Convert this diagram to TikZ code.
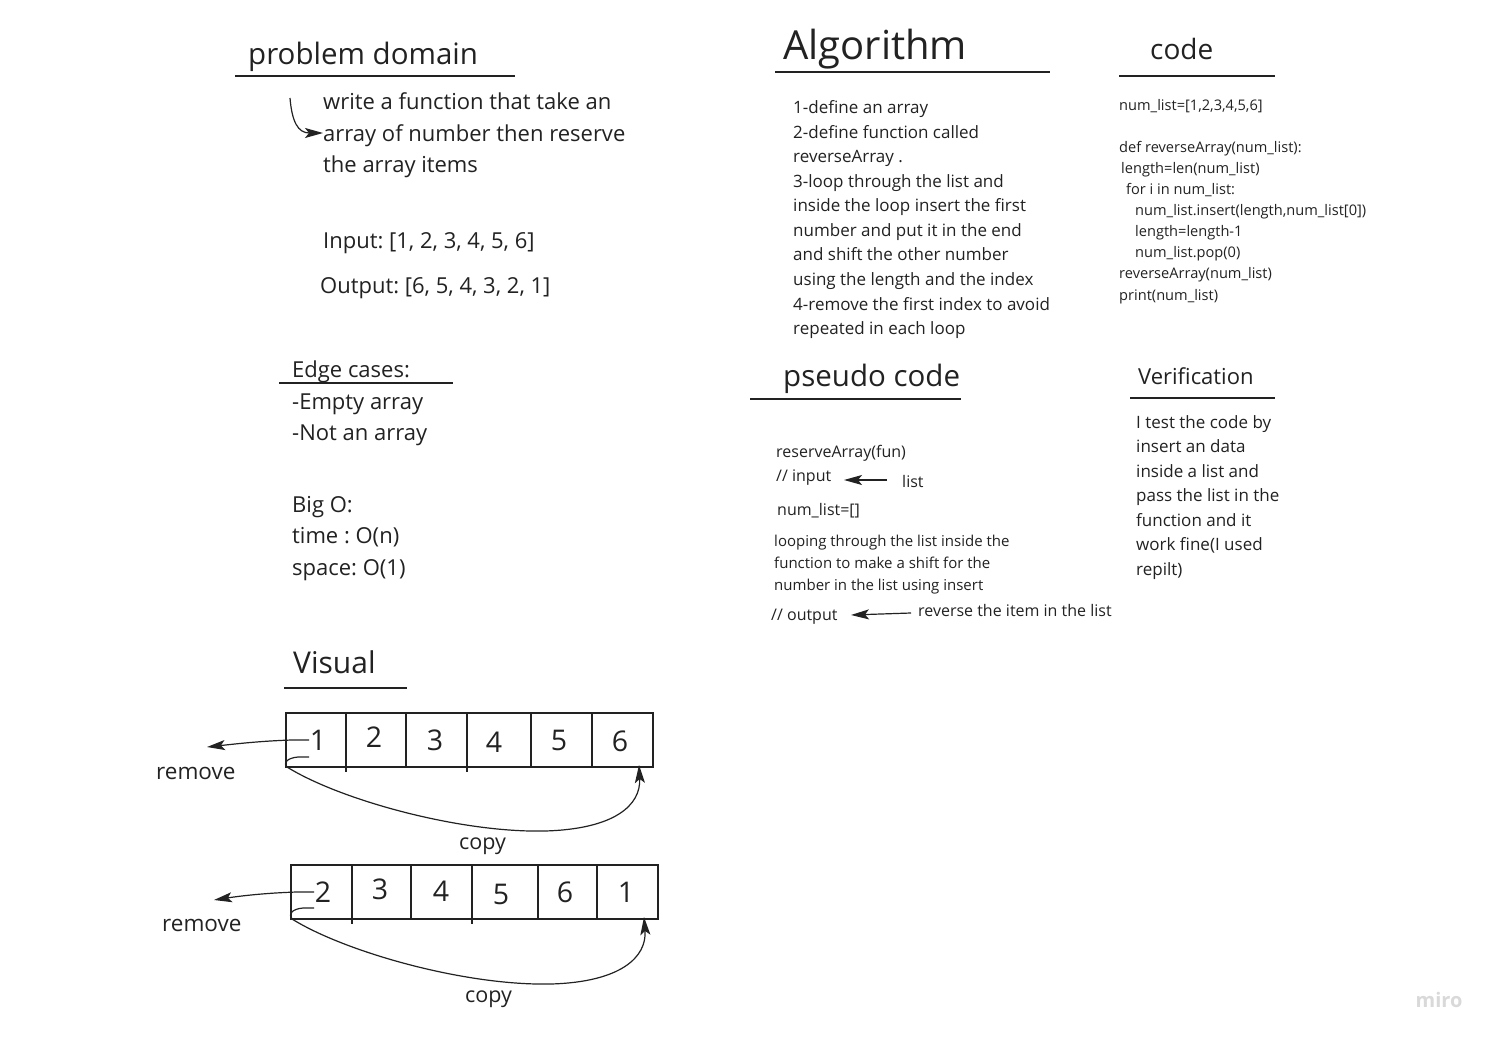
\documentclass[tikz,border=0pt]{standalone}
\usepackage{fontspec}
\setmainfont{Open Sans}
\usetikzlibrary{arrows.meta}
\definecolor{ink}{HTML}{222222}
\tikzset{
  txt/.style={anchor=base west, inner sep=0pt, text=ink},
  hd/.style={txt},
  rule/.style={line width=1.3pt, draw=ink},
  box/.style={line width=2.6pt, draw=ink},
  divider/.style={line width=1.2pt, draw=ink},
  num/.style={anchor=center, inner sep=0pt, text=ink, font=\fontsize{28.5}{28.5}\selectfont},
  conn/.style={line width=1.2pt, draw=ink, -{Stealth[length=18pt,width=10pt,inset=4pt]}},
}
\newcommand{\fs}[1]{\fontsize{#1}{#1}\selectfont}
\frenchspacing
\begin{document}
\begin{tikzpicture}[x=1pt,y=-1pt]
\useasboundingbox (0,0) rectangle (1497,1043);
\fill[white] (0,0) rectangle (1497,1043);

% ---------- headings ----------
\node[hd, font=\fs{29.5}] (hpd) at (248,65) {problem domain};
\draw[rule] (235,76) -- (515,76);
\node[hd, font=\fs{40}] (halg) at (783,60) {Algorithm};
\draw[rule] (775,72) -- (1050,72);
\node[hd, font=\fs{28}] (hcode) at (1150,60) {code};
\draw[rule] (1119,76) -- (1275,76);
\node[hd, font=\fs{29.5}] (hpseudo) at (783,386) {pseudo code};
\draw[rule] (750,399) -- (961,399);
\node[hd, font=\fs{22}] (hver) at (1138,384) {Verification};
\draw[rule] (1130,398) -- (1275,398);
\node[hd, font=\fs{22}] (hedge) at (292,377) {Edge cases:};
\draw[rule] (279,383) -- (453,383);
\node[hd, font=\fs{30}] (hvis) at (293,673) {Visual};
\draw[rule] (284,688) -- (407,688);

% ---------- problem domain ----------
\foreach \t [count=\i from 0] in {write a function that take an,array of number then reserve,the array items}
  \node[txt, font=\fs{22}] (pd\i) at (323,110+31.5*\i) {\t};
\coordinate (pdstart) at (290,98);
\draw[conn] (pdstart) .. controls (292,122) and (298,133) .. (pd1.base west |- 0,133);
\node[txt, font=\fs{22}] (inp) at (323,249) {Input: [1, 2, 3, 4, 5, 6]};
\node[txt, font=\fs{22}] (outp) at (320,293) {Output: [6, 5, 4, 3, 2, 1]};
\node[txt, font=\fs{22}] (e1) at (292,409) {-Empty array};
\node[txt, font=\fs{22}] (e2) at (292,440) {-Not an array};
\node[txt, font=\fs{22}] (b1) at (292,512) {Big O:};
\node[txt, font=\fs{22}] (b2) at (292,543) {time : O(n)};
\node[txt, font=\fs{22}] (b3) at (292,575) {space: O(1)};

% ---------- algorithm ----------
\foreach \t [count=\i from 0] in {1-define an array,2-define function called,reverseArray .,3-loop through the list and,inside the loop insert the first,number and put it in the end,and shift the other number,using the length and the index,4-remove the first index to avoid,repeated in each loop}
  \node[txt, font=\fs{17}] (alg\i) at (793,114+24.5*\i) {\t};

% ---------- code ----------
\node[txt, font=\fs{14.6}] (c0) at (1119,111) {num\_list=[1,2,3,4,5,6]};
\node[txt, font=\fs{14.6}] (c1) at (1119,153) {def reverseArray(num\_list):};
\node[txt, font=\fs{14.6}] (c2) at (1121,174) {length=len(num\_list)};
\node[txt, font=\fs{14.6}] (c3) at (1126,195) {for i in num\_list:};
\node[txt, font=\fs{14.6}] (c4) at (1135,216) {num\_list.insert(length,num\_list[0])};
\node[txt, font=\fs{14.6}] (c5) at (1135,237) {length=length-1};
\node[txt, font=\fs{14.6}] (c6) at (1135,258) {num\_list.pop(0)};
\node[txt, font=\fs{14.6}] (c7) at (1119,279) {reverseArray(num\_list)};
\node[txt, font=\fs{14.6}] (c8) at (1119,300) {print(num\_list)};

% ---------- pseudo code ----------
\node[txt, font=\fs{16}] (ps0) at (776,457) {reserveArray(fun)};
\node[txt, font=\fs{16}] (ps1) at (776,481) {// input};
\node[txt, font=\fs{16}] (pslist) at (902,487) {list};
\coordinate (inA) at (887,480);
\coordinate (inB) at (844,480);
\draw[conn] (inA) -- (inB);
\node[txt, font=\fs{16}] (ps2) at (777,515) {num\_list=[]};
\foreach \t [count=\i from 0] in {looping through the list inside the,function to make a shift for the,number in the list using insert}
  \node[txt, font=\fs{15}] (lp\i) at (774,546+22*\i) {\t};
\node[txt, font=\fs{16}] (ps3) at (771,620) {// output};
\node[txt, font=\fs{16}] (psrev) at (918,616) {reverse the item in the list};
\coordinate (outA) at (911,613);
\coordinate (outB) at (851,615);
\draw[conn] (outA) -- (outB);

% ---------- verification ----------
\foreach \t [count=\i from 0] in {I test the code by,insert an data,inside a list and,pass the list in the,function and it,work fine(I used,repilt)}
  \node[txt, font=\fs{17}] (v\i) at (1136,428+24.5*\i) {\t};

% ---------- visual: array 1 ----------
\draw[box] (286,713) rectangle (653,767);
\foreach \x/\b in {346/772,406/767,467/772,531/767,592/767}
  \draw[divider] (\x,713) -- (\x,\b);
\foreach \n/\x/\y [count=\i] in {1/318/740,2/374/737,3/435/740,4/494/742,5/559/740,6/620/741}
  \node[num] (a\i) at (\x,\y) {\n};
\coordinate (r1s) at (309,740);
\coordinate (r1e) at (207,747);
\draw[conn] (r1s) -- (292,740) .. controls (260,741) and (235,744) .. (r1e);
\node[txt, font=\fs{22.5}] (rem1) at (156,779) {remove};
\coordinate (c1s) at (309,757);
\coordinate (c1e) at (639,765);
\draw[conn] (c1s) -- (298,757) .. controls (287,758) and (283,763) .. (287,767)
  .. controls (340,800) and (460,833) .. (545,831)
  .. controls (615,829) and (641,805) .. (c1e);
\node[txt, font=\fs{21.5}] (copy1) at (459,849) {copy};

% ---------- visual: array 2 ----------
\draw[box] (291,865) rectangle (658,919);
\foreach \x/\b in {352/924,411/919,472/924,538/919,597/919}
  \draw[divider] (\x,865) -- (\x,\b);
\foreach \n/\x/\y [count=\i] in {2/323/892,3/380/889,4/441/891,5/501/894,6/565/892,1/626/892}
  \node[num] (b\i) at (\x,\y) {\n};
\coordinate (r2s) at (314,892);
\coordinate (r2e) at (214,900);
\draw[conn] (r2s) -- (297,892) .. controls (265,893) and (240,896) .. (r2e);
\node[txt, font=\fs{22.5}] (rem2) at (162,931) {remove};
\coordinate (c2s) at (314,908);
\coordinate (c2e) at (644,917);
\draw[conn] (c2s) -- (303,908) .. controls (292,909) and (288,914) .. (292,919)
  .. controls (345,952) and (465,986) .. (551,984)
  .. controls (621,982) and (647,957) .. (c2e);
\node[txt, font=\fs{21.5}] (copy2) at (465,1002) {copy};

% ---------- watermark ----------
\node[anchor=center, inner sep=0pt, text=black!15, font=\fs{20}\bfseries] (miro) at (1439,1000) {miro};
\end{tikzpicture}
\end{document}
